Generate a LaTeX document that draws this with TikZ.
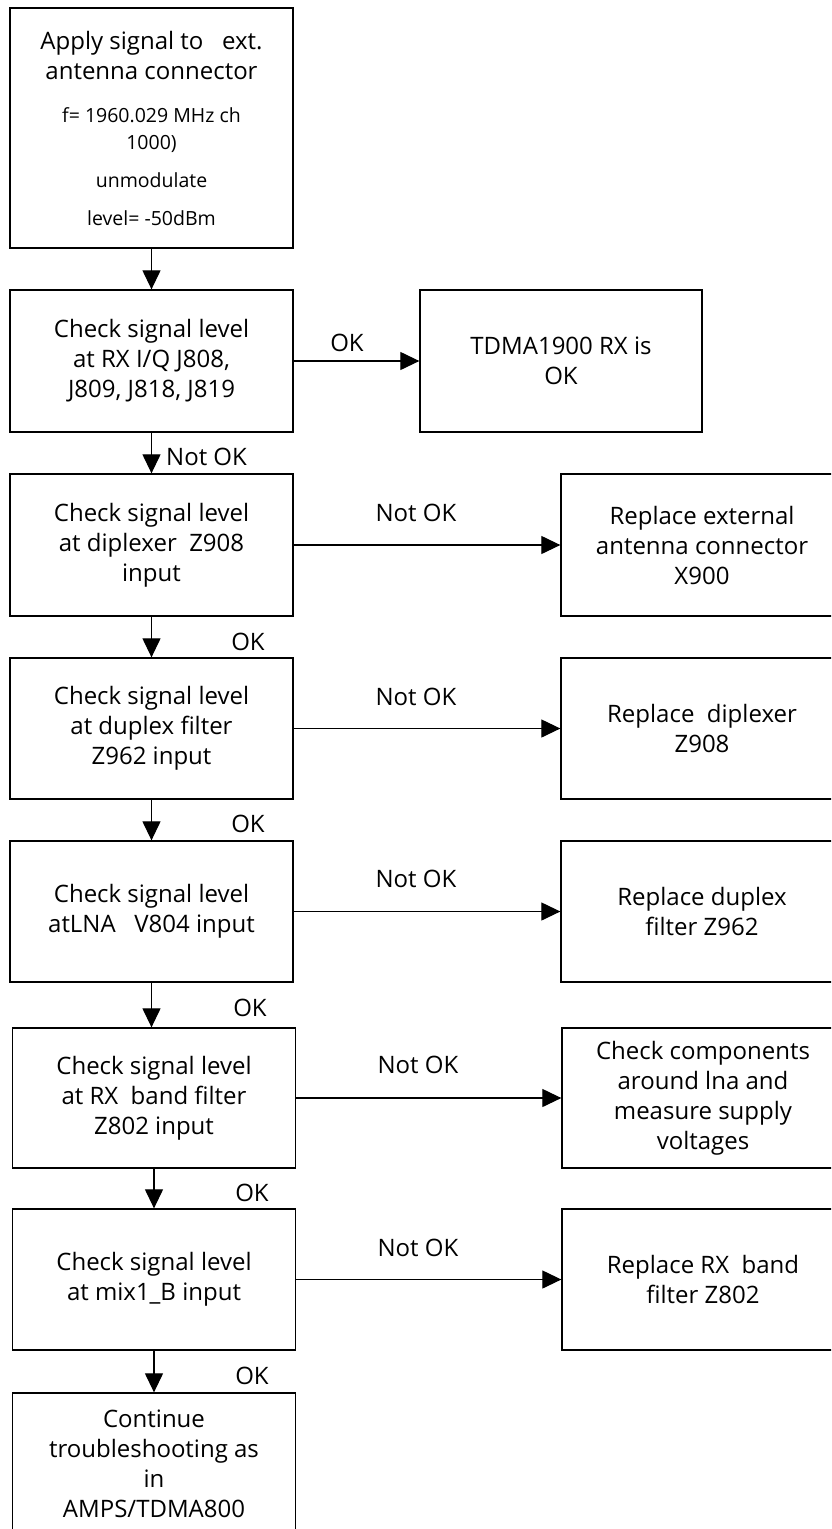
\documentclass[tikz,border=0pt]{standalone}
\usepackage{fontspec}
\setmainfont{Open Sans}
\usetikzlibrary{arrows.meta}
\begin{document}
\begin{tikzpicture}[x=1pt,y=-1pt,
  box/.style={draw, line width=1.3pt, minimum width=283pt, minimum height=141pt, align=center, inner sep=0pt, font=\fontsize{24}{30}\selectfont},
  lbl/.style={inner sep=0pt, font=\fontsize{24}{30}\selectfont},
  flow/.style={line width=1.2pt, -{Triangle[length=19pt,width=18pt]}}]
\useasboundingbox (0,0) rectangle (831,1529);
\fill[white] (0,0) rectangle (831,1529);
\clip (0,0) rectangle (831,1529);

% left column
\node[box, minimum height=240pt, font=\fontsize{19.5}{27}\selectfont] (b1) at (151.5,128)
  {{\fontsize{24}{30}\selectfont Apply signal to\ \ \ ext.}\\[3pt]{\fontsize{24}{30}\selectfont antenna connector}\\[16pt]f= 1960.029 MHz ch\\1000)\\[11pt]unmodulate\\[11pt]level= -50dBm};
\node[box, minimum height=142pt] (b2) at (151.5,361) {Check signal level\\at RX I/Q J808,\\J809, J818, J819};
\node[box, minimum height=142pt] (b3) at (151.5,545) {Check signal level\\at diplexer\ \ Z908\\input};
\node[box] (b4) at (151.5,728.5) {Check signal level\\at duplex filter\\Z962 input};
\node[box] (b5) at (151.5,911.5) {Check signal level\\atLNA\ \ \ V804 input};
\node[box, minimum height=140pt] (b6) at (154,1098) {Check signal level\\at RX\ \ band filter\\Z802 input};
\node[box] (b7) at (154,1279.5) {Check signal level\\at mix1\_B input};
\node[box] (b8) at (154,1463.5) {Continue\\troubleshooting as\\in\\AMPS/TDMA800};

% right column
\node[box, minimum width=282pt, minimum height=142pt] (r2) at (561,361) {TDMA1900 RX is\\OK};
\node[box, minimum width=282pt, minimum height=142pt] (r3) at (702,545) {Replace external\\antenna connector\\X900};
\node[box, minimum width=282pt] (r4) at (702,728.5) {Replace\ \ diplexer\\Z908};
\node[box, minimum width=282pt] (r5) at (702,911.5) {Replace duplex\\filter Z962};
\node[box, minimum width=282pt, minimum height=140pt] (r6) at (703,1098) {Check components\\around lna and\\measure supply\\voltages};
\node[box, minimum width=282pt] (r7) at (703,1279.5) {Replace RX\ \ band\\filter Z802};

% vertical connectors
\draw[flow] (b1.south) -- (b1.south |- b2.north);
\draw[flow] (b2.south) -- (b2.south |- b3.north);
\draw[flow] (b3.south) -- (b3.south |- b4.north);
\draw[flow] (b4.south) -- (b4.south |- b5.north);
\draw[flow] (b5.south) -- (b5.south |- b6.north);
\draw[flow] (b6.south) -- (b6.south |- b7.north);
\draw[flow] (b7.south) -- (b7.south |- b8.north);

% horizontal connectors
\draw[flow] (b2.east) -- (r2.west);
\draw[flow] (b3.east) -- (r3.west);
\draw[flow] (b4.east) -- (r4.west);
\draw[flow] (b5.east) -- (r5.west);
\draw[flow] (b6.east) -- (r6.west);
\draw[flow] (b7.east) -- (r7.west);

% labels
\node[lbl] (l2) at (347,343) {OK};
\node[lbl, anchor=west] (l2d) at (166,457) {Not OK};
\node[lbl] (l3) at (416,513) {Not OK};
\node[lbl] (l3d) at (248,642) {OK};
\node[lbl] (l4) at (416,697) {Not OK};
\node[lbl] (l4d) at (248,824) {OK};
\node[lbl] (l5) at (416,879) {Not OK};
\node[lbl] (l5d) at (250,1008) {OK};
\node[lbl] (l6) at (418,1065) {Not OK};
\node[lbl] (l6d) at (252,1193) {OK};
\node[lbl] (l7) at (418,1248) {Not OK};
\node[lbl] (l7d) at (252,1376) {OK};
\end{tikzpicture}
\end{document}
